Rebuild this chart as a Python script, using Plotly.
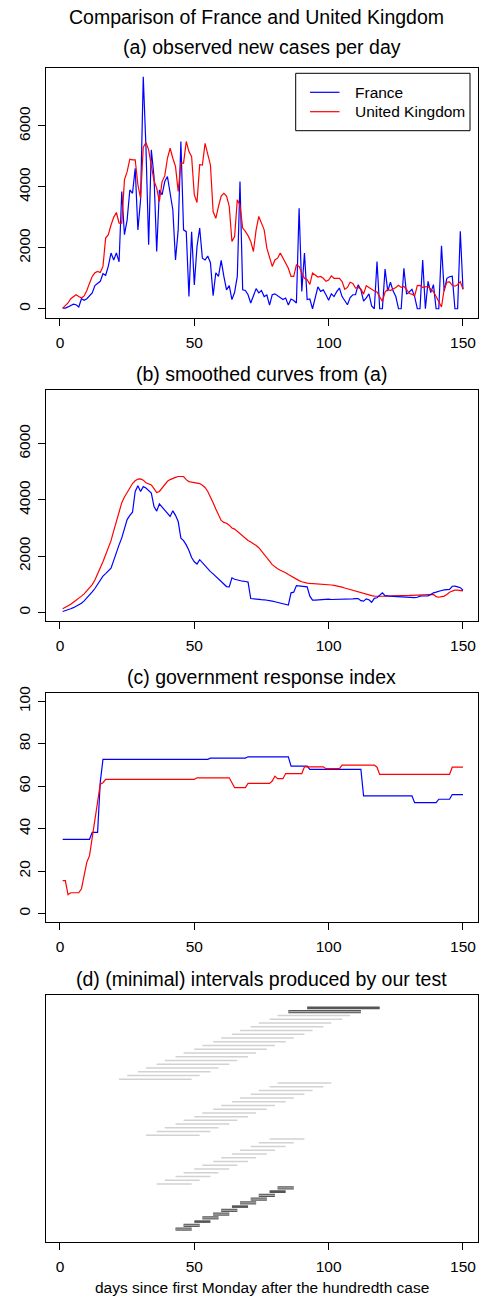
import plotly.graph_objects as go

# ---------------- data ----------------
days = list(range(1, 151))

france_cases = [
    20, 20, 60, 100, 150, 130, 60, 330, 280, 330,
    420, 520, 760, 820, 900, 1150, 1100, 1400, 1830, 1600,
    1830, 1540, 3850, 2430, 2920, 3900, 3790, 4610, 2590, 3575,
    7620, 5300, 2100, 5215, 4340, 1880, 3900, 3740, 4175, 4340,
    3800, 3250, 1600, 2590, 5490, 2590, 2530, 400, 2530, 780,
    2040, 2650, 1660, 1600, 1730, 1510, 430, 1180, 1060, 1590,
    1060, 620, 760, 300, 540, 1060, 4175, 620, 600, 460,
    190, 460, 660, 520, 600, 400, 450, 120, 460, 490,
    420, 350, 300, 350, 120, 320, 270, 190, 3300, 570,
    1830, 300, 320, 0, 400, 720, 570, 620, 460, 280,
    490, 400, 560, 680, 400, 250, 130, 370, 460, 460,
    790, 620, 250, 360, 490, 90, 0, 1550, 0, 0,
    1300, 580, 870, 580, 400, 0, 0, 1330, 480, 550,
    640, 400, 0, 0, 1600, 0, 900, 530, 790, 0,
    0, 2070, 580, 1000, 1050, 1070, 0, 0, 2540, 640,
]

uk_cases = [
    20, 100, 190, 330, 400, 460, 400, 350, 420, 600,
    840, 1060, 1180, 1225, 1190, 1390, 2320, 2430, 2750, 3000,
    3160, 2810, 2810, 4230, 4500, 4910, 4890, 4890, 4070, 3630,
    5300, 5460, 5215, 4670, 4200, 3960, 3520, 4175, 4360, 4940,
    5270, 4940, 4670, 3850, 4780, 4780, 5490, 5160, 4990, 3740,
    3490, 4730, 4720, 5430, 5050, 4720, 3190, 2970, 3360, 3700,
    3790, 3700, 3360, 2210, 2370, 3575, 3400, 2650, 2540, 2400,
    2210, 1880, 2590, 3030, 2810, 2590, 1990, 1700, 1390, 1600,
    1660, 1830, 1660, 1500, 1330, 1060, 1060, 1440, 1390, 1170,
    1000, 950, 800, 1170, 1110, 1040, 1060, 1000, 900, 940,
    1080, 1000, 1000, 1000, 890, 640, 700, 870, 830, 680,
    700, 650, 480, 760, 700, 640, 580, 550, 400, 240,
    550, 640, 600, 640, 700, 770, 700, 730, 640, 500,
    480, 420, 760, 770, 700, 720, 730, 640, 560, 400,
    200, 60, 640, 870, 880, 770, 740, 790, 890, 640,
]

france_smooth = [
    35, 60, 90, 130, 170, 220, 270, 330, 410, 510,
    620, 730, 850, 1000, 1150, 1290, 1380, 1480, 1570, 1850,
    2150, 2400, 2650, 3000, 3300, 3450, 3560, 4300, 4500, 4300,
    4470, 4420, 4330, 4240, 3760, 3600, 3860, 3750, 3650, 3500,
    3410, 3610, 3450, 3230, 2640, 2550, 2400, 2200, 1950, 1800,
    1720, 1875, 1760, 1650, 1560, 1450, 1370, 1280, 1200, 1100,
    1030, 920, 910, 1230, 1180, 1150, 1140, 1110, 1100, 1080,
    495, 480, 470, 460, 455, 450, 440, 420, 400, 380,
    360, 340, 310, 280, 260, 697, 720, 955, 950, 940,
    930, 910, 580, 437, 440, 445, 450, 470, 484, 470,
    460, 460, 460, 465, 465, 470, 470, 475, 480, 490,
    495, 420, 400, 484, 450, 360, 500, 520, 600, 697,
    600, 580, 575, 570, 565, 560, 555, 555, 550, 520,
    525, 530, 540, 580, 585, 590, 590, 640, 697, 720,
    760, 780, 800, 810, 820, 930, 935, 910, 880, 790,
]

uk_smooth = [
    130, 180, 230, 290, 365, 430, 500, 580, 660, 760,
    880, 990, 1150, 1350, 1560, 1800, 2050, 2300, 2550, 2900,
    3250, 3600, 3900, 4100, 4270, 4420, 4580, 4680, 4740, 4745,
    4700, 4610, 4560, 4530, 4400, 4260, 4300, 4430, 4560, 4660,
    4720, 4770, 4800, 4830, 4840, 4830, 4720, 4650, 4630, 4620,
    4610, 4580, 4520, 4440, 4300, 4120, 3900, 3680, 3450, 3270,
    3200, 3170, 3100, 3000, 2960, 2880, 2800, 2720, 2620, 2560,
    2500, 2450, 2380, 2300, 2170, 2050, 1930, 1820, 1700, 1620,
    1550, 1500, 1460, 1410, 1350, 1290, 1230, 1180, 1130, 1090,
    1060, 1040, 1030, 1025, 1025, 1020, 1010, 1000, 995, 990,
    975, 960, 945, 930, 900, 870, 840, 815, 790, 760,
    720, 690, 660, 630, 610, 595, 580, 570, 570, 575,
    580, 580, 585, 590, 590, 595, 600, 600, 600, 605,
    610, 615, 620, 630, 637, 645, 655, 660, 640, 560,
    540, 560, 580, 640, 720, 760, 790, 790, 780, 765,
]

france_gov = [
    35, 35, 35, 35, 35, 35, 35, 35, 35, 35,
    35, 38.3, 38.3, 38.3, 62, 72.7, 72.7, 72.7, 72.7, 72.7,
    72.7, 72.7, 72.7, 72.7, 72.7, 72.7, 72.7, 72.7, 72.7, 72.7,
    72.7, 72.7, 72.7, 72.7, 72.7, 72.7, 72.7, 72.7, 72.7, 72.7,
    72.7, 72.7, 72.7, 72.7, 72.7, 72.7, 72.7, 72.7, 72.7, 72.7,
    72.7, 72.7, 72.7, 72.7, 72.7, 73.3, 73.3, 73.3, 73.3, 73.3,
    73.3, 73.3, 73.3, 73.3, 73.3, 73.3, 73.3, 73.3, 73.3, 73.9,
    73.9, 73.9, 73.9, 73.9, 73.9, 73.9, 73.9, 73.9, 73.9, 73.9,
    73.9, 73.9, 73.9, 73.9, 73.9, 69.5, 69.5, 69.5, 69.5, 69.5,
    69.5, 69.5, 68, 68, 68, 68, 68, 68, 68, 68,
    68, 68, 68, 68, 68, 68, 68, 68, 68, 68,
    68, 68, 55.5, 55.5, 55.5, 55.5, 55.5, 55.5, 55.5, 55.5,
    55.5, 55.5, 55.5, 55.5, 55.5, 55.5, 55.5, 55.5, 55.5, 55.5,
    55.5, 52.3, 52.3, 52.3, 52.3, 52.3, 52.3, 52.3, 52.3, 52.3,
    53.9, 53.9, 53.9, 53.9, 53.9, 56.1, 56.1, 56.1, 56.1, 56.1,
]

uk_gov = [
    15.5, 15.5, 8.9, 9.8, 9.8, 9.8, 9.8, 11.7, 18, 24.2,
    27.3, 35.2, 43, 52.3, 61, 61.7, 63.3, 63.3, 63.3, 63.3,
    63.3, 63.3, 63.3, 63.3, 63.3, 63.3, 63.3, 63.3, 63.3, 63.3,
    63.3, 63.3, 63.3, 63.3, 63.3, 63.3, 63.3, 63.3, 63.3, 63.3,
    63.3, 63.3, 63.3, 63.3, 63.3, 63.3, 63.3, 63.3, 63.3, 63.3,
    64, 64, 64, 64, 64, 64, 64, 64, 64, 64,
    64, 64, 64, 61.7, 59.4, 59.4, 59.4, 59.4, 59.4, 61.4,
    61.4, 61.4, 61.4, 61.4, 61.4, 61.4, 61.4, 61.4, 62.5, 64.8,
    63.6, 63.6, 63.6, 66, 66, 66, 66, 66, 66, 66,
    69.2, 69.2, 69.2, 69.2, 69.2, 69.2, 69.2, 69.2, 68.3, 68.3,
    68.3, 68.3, 68.3, 68.3, 70, 70, 70, 70, 70, 70,
    70, 70, 70, 70, 70, 70, 70, 69, 65.6, 65.6,
    65.6, 65.6, 65.6, 65.6, 65.6, 65.6, 65.6, 65.6, 65.6, 65.6,
    65.6, 65.6, 65.6, 65.6, 65.6, 65.6, 65.6, 65.6, 65.6, 65.6,
    65.6, 65.6, 65.6, 65.6, 65.6, 69, 69, 69, 69, 69,
]

# (d) intervals, listed from top row to bottom row
interval_start = [
    92, 85,
    81, 78, 74, 71, 67, 64, 60, 57, 53, 50, 46, 43, 39, 36, 32, 29, 25, 22,
    81, 78, 74, 71, 67, 64, 60, 57, 53, 50, 46, 43, 39, 36, 32,
    78, 74, 71, 67, 64, 60, 57, 53, 50, 46, 43, 39, 36,
    81, 78, 74, 71, 67, 64, 60, 57, 53, 50, 46, 43,
]
interval_end = [
    119, 112,
    108, 105, 101, 98, 94, 91, 87, 84, 80, 77, 73, 70, 66, 63, 59, 56, 52, 49,
    101, 98, 94, 91, 87, 84, 80, 77, 73, 70, 66, 63, 59, 56, 52,
    91, 87, 84, 80, 77, 73, 70, 66, 63, 59, 56, 52, 49,
    87, 84, 80, 77, 73, 70, 66, 63, 59, 56, 52, 49,
]
interval_style = (
    ["solid", "outline"]
    + ["light"] * 18
    + ["light"] * 15
    + ["light"] * 13
    + ["outline", "solid", "outline", "outline", "outline", "solid",
       "outline", "outline", "outline", "solid", "outline", "outline"]
)

x_ticks = [0, 50, 100, 150]
case_ticks = [0, 2000, 4000, 6000]
gov_ticks = [0, 20, 40, 60, 80, 100]

series_names = ["France", "United Kingdom"]
titles = [
    "(a) observed new cases per day",
    "(b) smoothed curves from (a)",
    "(c) government response index",
    "(d) (minimal) intervals produced by our test",
]
main_title = "Comparison of France and United Kingdom"
x_label = "days since first Monday after the hundredth case"

# ---------------- layout geometry (pixels) ----------------
W, H = 483, 1299
FONT = "Liberation Sans, Arial, sans-serif"
BLUE, RED = "#0000FF", "#FF0000"
X0, X1 = 46, 477.5
boxes = [(68, 318), (390, 621), (693, 922), (995, 1242)]
title_y = [47, 374, 677, 978.5]


def fx(v):
    return v / W


def fy(v):
    return 1 - v / H


fig = go.Figure()

# (a)
fig.add_trace(go.Scatter(x=days, y=france_cases, mode="lines", name=series_names[0],
                         showlegend=False, line=dict(color=BLUE, width=1.2),
                         xaxis="x", yaxis="y"))
fig.add_trace(go.Scatter(x=days, y=uk_cases, mode="lines", name=series_names[1],
                         showlegend=False, line=dict(color=RED, width=1.2),
                         xaxis="x", yaxis="y"))
# (b)
fig.add_trace(go.Scatter(x=days, y=uk_smooth, mode="lines", name=series_names[1],
                         showlegend=False, line=dict(color=RED, width=1.2),
                         xaxis="x2", yaxis="y2"))
fig.add_trace(go.Scatter(x=days, y=france_smooth, mode="lines", name=series_names[0],
                         showlegend=False, line=dict(color=BLUE, width=1.2),
                         xaxis="x2", yaxis="y2"))
# (c)
fig.add_trace(go.Scatter(x=days, y=france_gov, mode="lines", name=series_names[0],
                         showlegend=False, line=dict(color=BLUE, width=1.2),
                         xaxis="x3", yaxis="y3"))
fig.add_trace(go.Scatter(x=days, y=uk_gov, mode="lines", name=series_names[1],
                         showlegend=False, line=dict(color=RED, width=1.2),
                         xaxis="x3", yaxis="y3"))

# (d)
n_rows = len(interval_start)


def seg(style):
    xs, ys = [], []
    for i, (s, e, st) in enumerate(zip(interval_start, interval_end, interval_style)):
        if st in style:
            row = n_rows - i
            xs += [s, e, None]
            ys += [row, row, None]
    return xs, ys


xs, ys = seg(("light",))
fig.add_trace(go.Scatter(x=xs, y=ys, mode="lines", showlegend=False,
                         line=dict(color="#d2d2d2", width=1.5), xaxis="x4", yaxis="y4"))
xs, ys = seg(("outline",))
fig.add_trace(go.Scatter(x=xs, y=ys, mode="lines", showlegend=False,
                         line=dict(color="#555555", width=3.2), xaxis="x4", yaxis="y4"))
fig.add_trace(go.Scatter(x=xs, y=ys, mode="lines", showlegend=False,
                         line=dict(color="#a8a8a8", width=1.2), xaxis="x4", yaxis="y4"))
xs, ys = seg(("solid",))
fig.add_trace(go.Scatter(x=xs, y=ys, mode="lines", showlegend=False,
                         line=dict(color="#555555", width=2.6), xaxis="x4", yaxis="y4"))

xrange = [-5.2, 155.4]
yranges = [[-304, 7904], [-304, 7904], [-4, 104], [-2.44, 63.44]]
yticks = [case_ticks, case_ticks, gov_ticks, []]

layout = dict(
    template="none",
    width=W, height=H,
    margin=dict(l=0, r=0, t=0, b=0, autoexpand=False),
    paper_bgcolor="white", plot_bgcolor="white",
    font=dict(family=FONT, size=15.5, color="black"),
    showlegend=False,
)

for k, (top, bot) in enumerate(boxes):
    sx = "" if k == 0 else str(k + 1)
    layout["xaxis" + sx] = dict(
        domain=[fx(X0), fx(X1)], range=xrange, anchor="y" + sx, automargin=False,
        tickvals=x_ticks, ticks="outside", ticklen=7, tickcolor="black", tickwidth=1,
        showline=True, mirror=True, linecolor="black", linewidth=1,
        showgrid=False, zeroline=False, ticklabelstandoff=3,
        tickfont=dict(size=15.5),
    )
    layout["yaxis" + sx] = dict(
        domain=[fy(bot), fy(top)], range=yranges[k], anchor="x" + sx, automargin=False,
        tickvals=yticks[k], ticks="outside" if yticks[k] else "",
        ticklen=7, tickcolor="black", tickwidth=1, tickangle=-90,
        showline=True, mirror=True, linecolor="black", linewidth=1,
        showgrid=False, zeroline=False, ticklabelstandoff=2,
        showticklabels=bool(yticks[k]), tickfont=dict(size=15.5),
    )

fig.update_layout(**layout)

# legend for panel (a), drawn as a framed key in the top-right of the panel
LEG = dict(x0=295.7, x1=470, y0=73.3, y1=130.7)
shapes = [dict(type="rect", xref="paper", yref="paper",
               x0=fx(LEG["x0"]), x1=fx(LEG["x1"]), y0=fy(LEG["y1"]), y1=fy(LEG["y0"]),
               line=dict(color="black", width=1), fillcolor="white", layer="above")]
annots = []
for name, col, ly in zip(series_names, [BLUE, RED], [92.3, 111.7]):
    shapes.append(dict(type="line", xref="paper", yref="paper",
                       x0=fx(310), x1=fx(339.5), y0=fy(ly), y1=fy(ly),
                       line=dict(color=col, width=1.2), layer="above"))
    annots.append(dict(text=name, x=fx(353.3), y=fy(ly), xref="paper", yref="paper",
                       showarrow=False, xanchor="left", yanchor="middle",
                       font=dict(size=15.5, family=FONT)))

annots.append(dict(text=main_title, x=fx(256), y=fy(17), xref="paper", yref="paper",
                   showarrow=False, xanchor="center", yanchor="middle",
                   font=dict(size=19.5, family=FONT)))
for t, ty in zip(titles, title_y):
    annots.append(dict(text=t, x=fx((X0 + X1) / 2), y=fy(ty), xref="paper", yref="paper",
                       showarrow=False, xanchor="center", yanchor="middle",
                       font=dict(size=19.5, family=FONT)))
annots.append(dict(text=x_label, x=fx((X0 + X1) / 2), y=fy(1287), xref="paper", yref="paper",
                   showarrow=False, xanchor="center", yanchor="middle",
                   font=dict(size=15.5, family=FONT)))
fig.update_layout(annotations=annots, shapes=shapes)

fig.write_html("out.html")
